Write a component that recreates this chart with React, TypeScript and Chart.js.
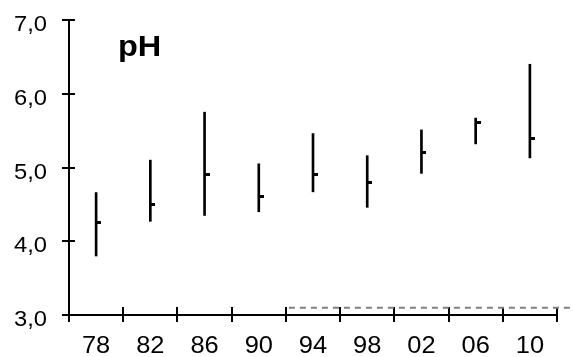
import React, { useEffect, useRef } from "react";
import { Chart, registerables } from "chart.js";

Chart.register(...registerables);

const years = ["78", "82", "86", "90", "94", "98", "02", "06", "10"];
const lows = [3.8, 4.27, 4.35, 4.4, 4.67, 4.46, 4.92, 5.32, 5.13];
const highs = [4.66, 5.1, 5.75, 5.05, 5.46, 5.16, 5.51, 5.67, 6.4];
const means = [4.26, 4.5, 4.9, 4.61, 4.9, 4.8, 5.2, 5.61, 5.39];
const yTicks = [3, 4, 5, 6, 7];
const refValue = 3.1;
const refStartIndex = 4;
const titleText = "pH";
const FONT = "'Liberation Sans', Arial, sans-serif";

export default function App() {
  const ref = useRef<HTMLCanvasElement>(null);
  useEffect(() => {
    document.body.style.margin = "0";
    const canvas = ref.current!;
    const mark = document.createElement("canvas");
    mark.width = 10;
    mark.height = 3;
    const mctx = mark.getContext("2d")!;
    mctx.fillStyle = "#000";
    mctx.fillRect(5, 0, 5, 3);

    const drawScaled = (ctx: any, text: string, x: number, y: number, sx: number, align: string) => {
      ctx.save();
      ctx.translate(x, y);
      ctx.scale(sx, 1);
      ctx.textAlign = align;
      ctx.fillText(text, 0, 0);
      ctx.restore();
    };

    const extras = {
      id: "extras",
      afterDraw(chart: any) {
        const ctx = chart.ctx;
        const area = chart.chartArea;
        const xs = chart.scales.x;
        const ys = chart.scales.y;
        ctx.save();
        ctx.strokeStyle = "#000";
        ctx.lineWidth = 2;
        // inner ticks
        yTicks.forEach((v) => {
          const y = Math.round(ys.getPixelForValue(v));
          ctx.beginPath();
          ctx.moveTo(area.left, y);
          ctx.lineTo(area.left + 6, y);
          ctx.stroke();
        });
        const n = years.length;
        const w = (area.right - area.left) / n;
        for (let i = 1; i <= n; i++) {
          const x = Math.round(area.left + i * w);
          ctx.beginPath();
          ctx.moveTo(x, area.bottom);
          ctx.lineTo(x, area.bottom - 8);
          ctx.stroke();
        }
        // tick labels
        ctx.fillStyle = "#000";
        ctx.textBaseline = "alphabetic";
        ctx.font = `22px ${FONT}`;
        yTicks.forEach((v) => {
          const y = ys.getPixelForValue(v);
          drawScaled(ctx, v.toFixed(1).replace(".", ","), area.left - 22, y + 11, 1.08, "right");
        });
        ctx.font = `24px ${FONT}`;
        years.forEach((lab, i) => {
          const x = xs.getPixelForValue(i);
          drawScaled(ctx, lab, x, area.bottom + 37.5, 1.06, "center");
        });
        // dashed reference line
        const yr = ys.getPixelForValue(refValue);
        const xStart = xs.getPixelForValue(refStartIndex) - w / 2 + 3;
        ctx.strokeStyle = "#808080";
        ctx.lineWidth = 2;
        ctx.setLineDash([6, 5]);
        ctx.beginPath();
        ctx.moveTo(xStart, yr);
        ctx.lineTo(chart.width, yr);
        ctx.stroke();
        ctx.setLineDash([]);
        // title
        ctx.fillStyle = "#000";
        ctx.font = `bold 29px ${FONT}`;
        drawScaled(ctx, titleText, area.left + 49, 56, 1.12, "left");
        ctx.restore();
      },
    };

    const chart = new Chart(canvas, {
      type: "bar",
      data: {
        labels: years,
        datasets: [
          {
            type: "line",
            data: means,
            showLine: false,
            pointStyle: mark as any,
            pointRadius: 3,
            order: 0,
          } as any,
          {
            type: "bar",
            data: lows.map((l, i) => [l, highs[i]]),
            backgroundColor: "#000",
            barThickness: 2,
            order: 1,
          },
        ],
      },
      plugins: [extras],
      options: {
        animation: false,
        responsive: false,
        layout: { padding: { top: 20, right: 16, left: 0, bottom: 0 } },
        plugins: { legend: { display: false }, tooltip: { enabled: false } },
        scales: {
          x: {
            type: "category",
            offset: true,
            grid: {
              offset: true,
              drawOnChartArea: false,
              tickLength: 7,
              color: "#000",
              lineWidth: 2,
            },
            border: { color: "#000", width: 2 },
            ticks: { display: false },
            afterFit: (s: any) => {
              s.height = 42;
            },
          },
          y: {
            min: 3,
            max: 7,
            afterBuildTicks: (s: any) => {
              s.ticks = yTicks.map((v) => ({ value: v }));
            },
            grid: {
              drawOnChartArea: false,
              tickLength: 7,
              color: "#000",
              lineWidth: 2,
            },
            border: { color: "#000", width: 2 },
            ticks: { display: false },
            afterFit: (s: any) => {
              s.width = 69;
            },
          },
        },
      },
    });
    return () => chart.destroy();
  }, []);
  return <canvas ref={ref} width={573} height={357} style={{ display: "block" }} />;
}
